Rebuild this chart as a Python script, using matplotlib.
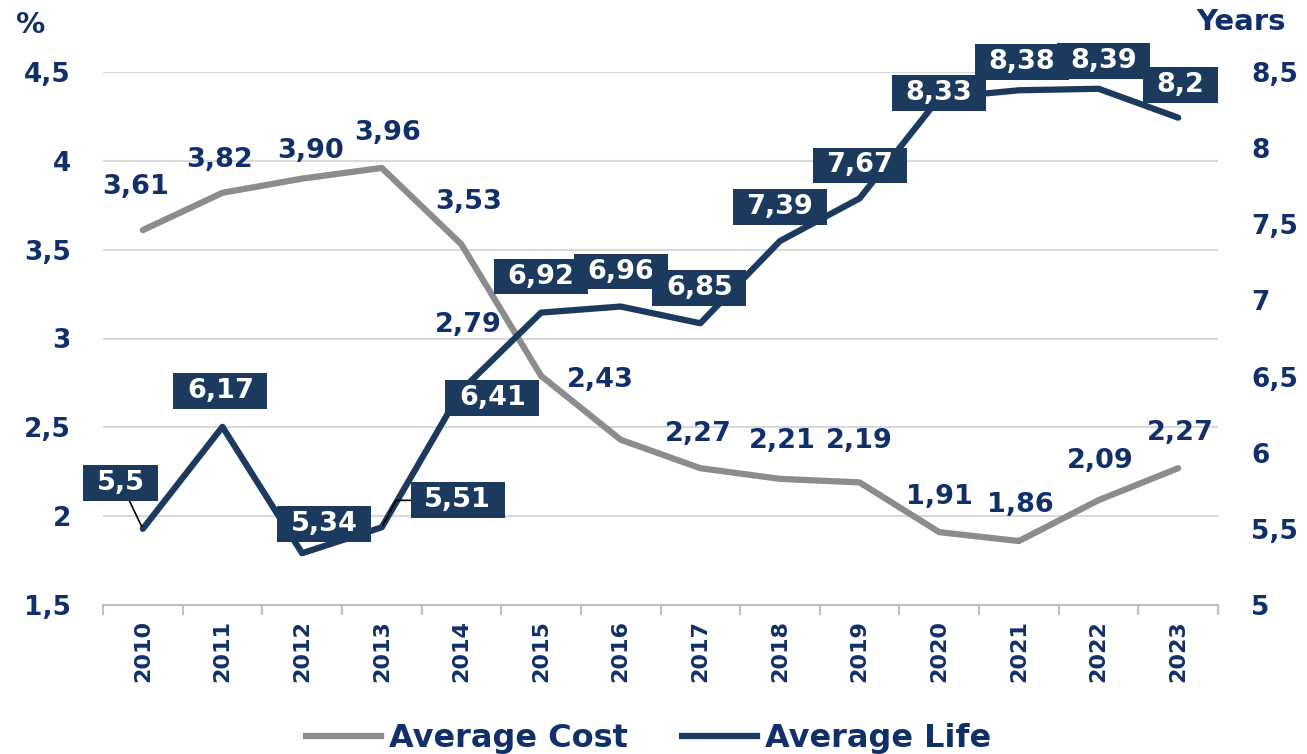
import matplotlib.pyplot as plt
from matplotlib.path import Path
from matplotlib.lines import Line2D

years = ['2010', '2011', '2012', '2013', '2014', '2015', '2016',
         '2017', '2018', '2019', '2020', '2021', '2022', '2023']
avg_cost = [3.61, 3.82, 3.90, 3.96, 3.53, 2.79, 2.43, 2.27, 2.21, 2.19, 1.91, 1.86, 2.09, 2.27]
avg_life = [5.5, 6.17, 5.34, 5.51, 6.41, 6.92, 6.96, 6.85, 7.39, 7.67, 8.33, 8.38, 8.39, 8.2]
life_text = ['5,5', '6,17', '5,34', '5,51', '6,41', '6,92', '6,96',
             '6,85', '7,39', '7,67', '8,33', '8,38', '8,39', '8,2']
cost_ticks = [1.5, 2, 2.5, 3, 3.5, 4, 4.5]
life_ticks = [5, 5.5, 6, 6.5, 7, 7.5, 8, 8.5]

NAVY = '#1b3a5e'
TEXT = '#11306a'
GREY = '#8c8c8c'
FONT = 'DejaVu Sans'
LBL = 19.5

# label offsets in pixels (dx, dy) from each point
cost_off = [(-7, 43), (-3, 33), (8, 28), (6, 35), (7, 42), (-73, 51), (-20, 60),
            (-2, 34), (2, 38), (0, 41), (0, 35), (1, 36), (2, 39), (2, 35)]
life_off = [(-22, 46), (-2, 36), (22, 29), (76, 27), (31, -8), (0, 36), (0, 35),
            (-1, 35), (0, 34), (0, 33), (0, 5), (3, 28), (5, 28), (2, 33)]
# leader line shapes for labels pushed away from their point
leaders = {0: 'arc3', 3: 'angle,angleA=0,angleB=62,rad=0'}


def tick_fmt(v):
    return f'{v:g}'.replace('.', ',')


def wide_box(x0, y0, width, height, mutation_size):
    px = 0.5 * mutation_size
    py = 0.18 * mutation_size
    x0, x1 = x0 - px, x0 + width + px
    y0, y1 = y0 - py, y0 + height + py
    return Path([(x0, y0), (x1, y0), (x1, y1), (x0, y1), (x0, y0)],
                [Path.MOVETO, Path.LINETO, Path.LINETO, Path.LINETO, Path.CLOSEPOLY])


plt.rcParams['font.family'] = FONT
plt.rcParams['font.weight'] = 'bold'

fig = plt.figure(figsize=(13.07, 7.54), dpi=100)
ax = fig.add_axes([103 / 1307, 1 - 605 / 754, 1115 / 1307, 533 / 754])
ax2 = ax.twinx()

x = list(range(len(years)))
ax.plot(x, avg_cost, color=GREY, lw=4.5, solid_capstyle='round', zorder=3, clip_on=False)
ax2.plot(x, avg_life, color=NAVY, lw=4.5, solid_capstyle='round', zorder=3, clip_on=False)

ax.set_xlim(-0.5, len(years) - 0.5)
ax.set_ylim(1.5, 4.5)
ax2.set_ylim(5, 8.5)

ax.set_xticks(x)
ax.set_xticklabels(years, rotation=90, fontsize=16, color=TEXT, fontweight='bold')
ax.set_xticks([i - 0.5 for i in range(len(years) + 1)], minor=True)
ax.tick_params(axis='x', which='major', length=0, pad=11)
ax.tick_params(axis='x', which='minor', length=7, width=1.5, color='#bfbfbf')

ax.set_yticks(cost_ticks)
ax.set_yticklabels([tick_fmt(v) for v in cost_ticks], fontsize=19, color=TEXT, fontweight='bold')
ax.tick_params(axis='y', length=0, pad=23)
ax2.set_yticks(life_ticks)
ax2.set_yticklabels([tick_fmt(v) for v in life_ticks], fontsize=19, color=TEXT, fontweight='bold')
ax2.tick_params(axis='y', length=0, pad=24)

ax.grid(axis='y', color='#d9d9d9', lw=1.5)
ax.set_axisbelow(True)
for a in (ax, ax2):
    for side in ('left', 'right', 'top'):
        a.spines[side].set_visible(False)
    a.spines['bottom'].set_color('#bfbfbf')
    a.spines['bottom'].set_linewidth(1.5)
ax2.spines['bottom'].set_visible(False)

# cost values: plain text above the line
for i, v in enumerate(avg_cost):
    ax.annotate(f'{v:.2f}'.replace('.', ','), (i, v), xytext=cost_off[i],
                textcoords='offset pixels', ha='center', va='center',
                fontsize=LBL, color=TEXT, fontweight='bold', zorder=5,
                annotation_clip=False)

# life values: white text on navy boxes
for i, v in enumerate(avg_life):
    props = None
    if i in leaders:
        props = dict(arrowstyle='-', color='black', lw=1.2, shrinkA=0, shrinkB=2,
                     connectionstyle=leaders[i])
    ax2.annotate(life_text[i], (i, v), xytext=life_off[i], textcoords='offset pixels',
                 ha='center', va='center', fontsize=LBL, color='white',
                 fontweight='bold', zorder=6 + i, annotation_clip=False,
                 arrowprops=props,
                 bbox=dict(boxstyle=wide_box, fc=NAVY, ec='none'))

fig.text(31 / 1307, 1 - 25 / 754, '%', ha='center', va='center',
         fontsize=21, color=TEXT, fontweight='bold')
fig.text(1241 / 1307, 1 - 22 / 754, 'Years', ha='center', va='center',
         fontsize=21, color=TEXT, fontweight='bold')

handles = [Line2D([], [], color=GREY, lw=4.5), Line2D([], [], color=NAVY, lw=4.5)]
fig.legend(handles, ['Average Cost', 'Average Life'], loc='center',
           bbox_to_anchor=(0.496, 1 - 739 / 754), ncol=2, frameon=False,
           handlelength=2.35, handletextpad=0.25, columnspacing=1.7,
           borderpad=0, prop=dict(family=FONT, weight='bold', size=23),
           labelcolor=TEXT)

fig.savefig('out.png', dpi=100)
